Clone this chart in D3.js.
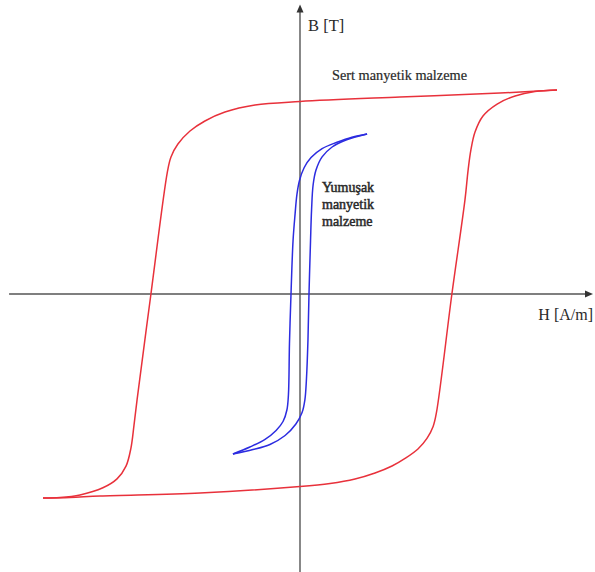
<!DOCTYPE html>
<html>
<head>
<meta charset="utf-8">
<script src="https://cdn.jsdelivr.net/npm/d3@7"></script>
<style>
  html, body { margin: 0; padding: 0; background: #fff; }
  svg { display: block; }
  text { font-family: "Liberation Serif", "Times New Roman", serif; fill: #2a2a2a; }
</style>
</head>
<body>
<svg id="chart" width="595" height="572"></svg>
<script>
// Hard magnetic material: descending branch (H in A/m, B in T)
const hardDownH = [1000, 778, 389, 0, -175, -292, -370, -428, -475, -502, -516, -580, -634, -646, -658, -677, -712, -767, -856, -934, -1000];
const hardDownB = [1.60, 1.576, 1.545, 1.51, 1.482, 1.427, 1.357, 1.278, 1.176, 1.075, 0.957, 0.0, -0.83, -1.03, -1.21, -1.35, -1.45, -1.52, -1.576, -1.596, -1.60];
// Hard magnetic material: ascending branch
const hardUpH = [-1000, -895, -778, -389, 0, 117, 214, 292, 358, 412, 459, 494, 518, 531, 591, 642, 654, 665, 681, 712, 767, 837, 914, 1000];
const hardUpB = [-1.60, -1.596, -1.584, -1.56, -1.51, -1.486, -1.451, -1.404, -1.349, -1.286, -1.216, -1.133, -1.039, -0.929, 0.0, 0.74, 0.97, 1.13, 1.27, 1.396, 1.49, 1.553, 1.588, 1.60];

// Soft magnetic material: descending branch
const softDownH = [261, 202, 144, 86, 43, 16, -2, -12, -19, -27, -35, -41, -45, -51, -66, -93, -136, -195, -261];
const softDownB = [1.255, 1.23, 1.19, 1.14, 1.07, 0.99, 0.89, 0.78, 0.63, 0.42, 0.0, -0.39, -0.79, -0.91, -1.0, -1.07, -1.14, -1.20, -1.255];
// Soft magnetic material: ascending branch
const softUpH = [-261, -183, -117, -58, -16, 8, 19, 25, 31, 35, 41, 45, 51, 62, 86, 125, 179, 261];
const softUpB = [-1.255, -1.22, -1.18, -1.11, -1.02, -0.93, -0.83, -0.67, -0.36, 0.0, 0.42, 0.66, 0.855, 0.97, 1.075, 1.153, 1.208, 1.255];

// Axis extents and labels
const hAxisExtent = [-1132, 1140];
const bAxisExtent = [-2.18, 2.27];
const hLabel = "H [A/m]";
const bLabel = "B [T]";
const hardLabel = "Sert manyetik malzeme";
const softLabel = ["Yumuşak", "manyetik", "malzeme"];

const svg = d3.select("#chart");

const x = d3.scaleLinear().domain([-1000, 1000]).range([43, 557]);
const y = d3.scaleLinear().domain([-1.6, 1.6]).range([498, 90]);

const zip = (hs, bs) => hs.map((h, i) => [h, bs[i]]);

const line = d3.line()
  .x(d => x(d[0]))
  .y(d => y(d[1]))
  .curve(d3.curveCatmullRom.alpha(0.5));

// Axes
const axisColor = "#555";
const x0 = x(0), y0 = y(0);
const hEnd = x(hAxisExtent[1]);
const bTop = y(bAxisExtent[1]);

svg.append("line")
  .attr("x1", x(hAxisExtent[0])).attr("x2", hEnd - 4)
  .attr("y1", y0).attr("y2", y0)
  .attr("stroke", axisColor).attr("stroke-width", 1.4);
svg.append("path")
  .attr("d", `M${hEnd},${y0} L${hEnd - 8},${y0 - 3.5} L${hEnd - 8},${y0 + 3.5} Z`)
  .attr("fill", "#333");

svg.append("line")
  .attr("x1", x0).attr("x2", x0)
  .attr("y1", y(bAxisExtent[0])).attr("y2", bTop + 4)
  .attr("stroke", axisColor).attr("stroke-width", 1.4);
svg.append("path")
  .attr("d", `M${x0},${bTop} L${x0 - 3.5},${bTop + 8} L${x0 + 3.5},${bTop + 8} Z`)
  .attr("fill", "#333");

// Hysteresis loops
const red = "#e8313b";
const blue = "#2c2ce0";

[[hardDownH, hardDownB], [hardUpH, hardUpB]].forEach(([h, b]) => {
  svg.append("path")
    .attr("d", line(zip(h, b)))
    .attr("fill", "none").attr("stroke", red).attr("stroke-width", 1.5);
});
[[softDownH, softDownB], [softUpH, softUpB]].forEach(([h, b]) => {
  svg.append("path")
    .attr("d", line(zip(h, b)))
    .attr("fill", "none").attr("stroke", blue).attr("stroke-width", 1.5);
});

// Labels
svg.append("text")
  .attr("x", x0 + 8).attr("y", bTop + 26)
  .attr("font-size", 16.5)
  .text(bLabel);

svg.append("text")
  .attr("x", 593).attr("y", y0 + 26)
  .attr("text-anchor", "end")
  .attr("font-size", 16)
  .text(hLabel);

svg.append("text")
  .attr("x", 332).attr("y", 80)
  .attr("font-size", 14.3)
  .attr("stroke", "#2a2a2a").attr("stroke-width", 0.2)
  .text(hardLabel);

const soft = svg.append("text")
  .attr("font-size", 14)
  .attr("stroke", "#2a2a2a").attr("stroke-width", 0.5);
softLabel.forEach((s, i) => {
  soft.append("tspan").attr("x", 322).attr("y", 192 + i * 17).text(s);
});
</script>
</body>
</html>
